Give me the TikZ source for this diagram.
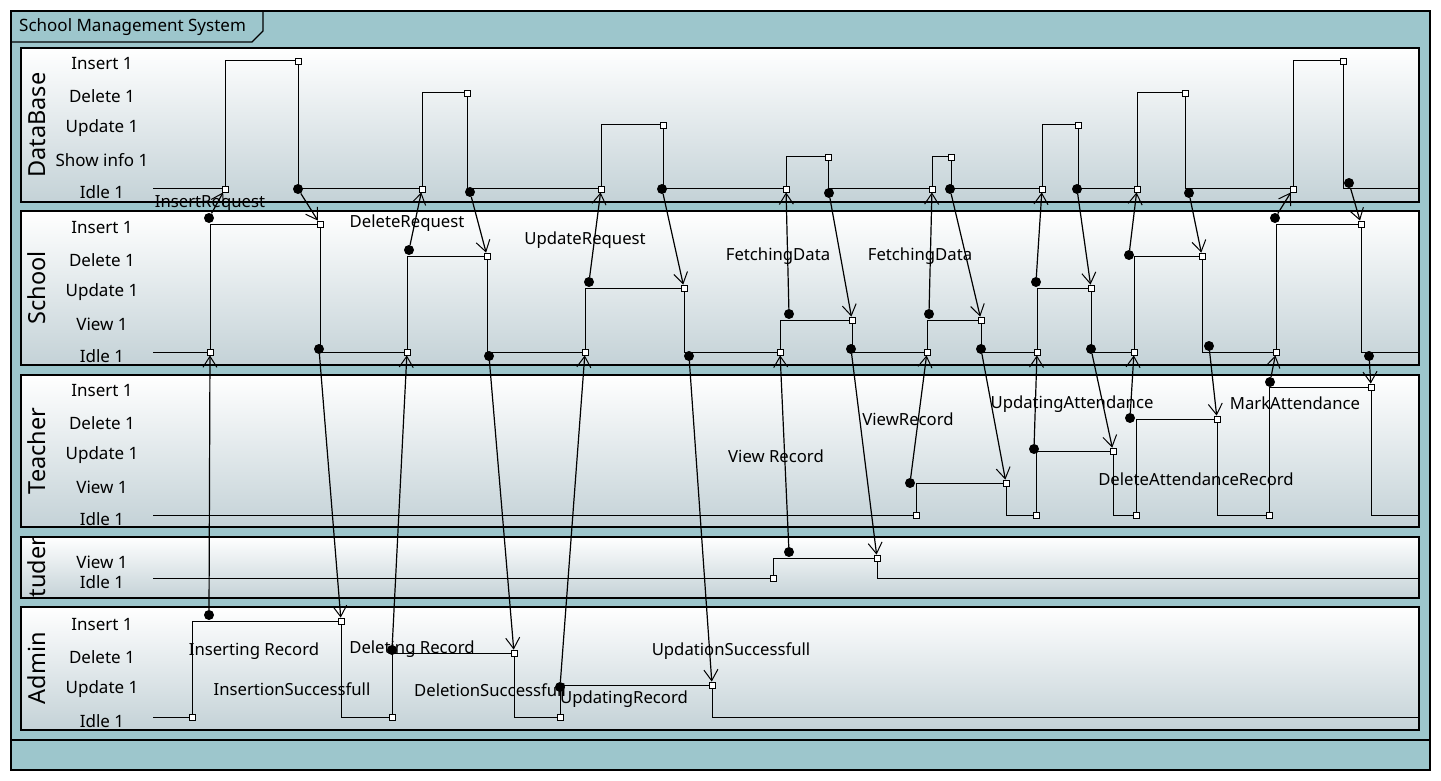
\documentclass[tikz,border=0pt]{standalone}
\usepackage{fontspec}
\setmainfont{Noto Sans}
\usepackage{tikz}
\usetikzlibrary{arrows.meta}
\usetikzlibrary{positioning}

\definecolor{frameteal}{RGB}{157,198,204}
\definecolor{lanebot}{RGB}{196,210,215}

\tikzset{
  lane/.style={draw=black,line width=1.3pt,top color=white,bottom color=lanebot},
  wave/.style={line width=1pt},
  sqmark/.style={rectangle,draw=black,fill=white,line width=0.8pt,minimum size=6pt,inner sep=0pt},
  dotmark/.style={circle,fill=black,minimum size=10pt,inner sep=0pt},
  msg/.style={line width=1.2pt,-{Straight Barb[length=11pt,width=14pt,line width=1pt]}},
  statelbl/.style={font=\fontsize{17}{19}\selectfont},
  msglbl/.style={font=\fontsize{16.7}{19}\selectfont,inner sep=0pt},
  lanename/.style={rotate=90,font=\fontsize{23.5}{26}\selectfont},
}

\begin{document}
\begin{tikzpicture}[x=1pt,y=-1pt]
\useasboundingbox (0,0) rectangle (1441,781);

% frame and title tab
\draw[fill=frameteal,line width=1.2pt] (11,11) rectangle (1430,770);
\draw[line width=1.2pt] (11,42) -- (252,42) -- (263,31) -- (263,11);
\draw[line width=1.2pt] (11,740) -- (1430,740);
\node[anchor=west,font=\fontsize{17}{19}\selectfont,inner sep=0pt] (title) at (19,27) {School Management System};

% lanes
\draw[lane] (21,48) rectangle (1419,202);
\draw[lane] (21,211) rectangle (1419,365);
\draw[lane,line width=2.4pt] (21,375) rectangle (1419,527);
\draw[lane] (21,537) rectangle (1419,598);
\draw[lane] (21,607) rectangle (1419,730);

\node[lanename] (nDB) at (37,125) {DataBase};
\node[lanename] (nSC) at (37,288) {School};
\node[lanename] (nTE) at (37,451) {Teacher};
\begin{scope}
  \clip (21,537) rectangle (1419,598);
  \node[lanename] (nST) at (37,567) {Student};
\end{scope}
\node[lanename] (nAD) at (37,668) {Admin};

% state names
\foreach \n/\t/\y in {dbIns/Insert 1/64, dbDel/Delete 1/96, dbUpd/Update 1/128, dbShw/Show info 1/160, dbIdl/Idle 1/192,
  scIns/Insert 1/228, scDel/Delete 1/260, scUpd/Update 1/292, scVie/View 1/324, scIdl/Idle 1/356,
  teIns/Insert 1/391, teDel/Delete 1/423, teUpd/Update 1/455, teVie/View 1/487, teIdl/Idle 1/519,
  stVie/View 1/562, stIdl/Idle 1/582,
  adIns/Insert 1/625, adDel/Delete 1/657, adUpd/Update 1/689, adIdl/Idle 1/721}
  \node[statelbl] (\n) at (102,\y) {\t};

% message labels
\node[msglbl] (lInsReq) at (210,204) {InsertRequest};
\node[msglbl] (lDelReq) at (407,223) {DeleteRequest};
\node[msglbl] (lUpdReq) at (585,240) {UpdateRequest};
\node[msglbl] (lFetA) at (778,256) {FetchingData};
\node[msglbl] (lFetB) at (920,256) {FetchingData};
\node[msglbl] (lViewA) at (776,456) {View Record};
\node[msglbl] (lViewB) at (908,419) {ViewRecord};
\node[msglbl] (lUpdAtt) at (1072,404) {UpdatingAttendance};
\node[msglbl] (lDelAtt) at (1196,479) {DeleteAttendanceRecord};
\node[msglbl] (lMrkAtt) at (1295,403) {MarkAttendance};
\node[msglbl] (lInsRec) at (254,651) {Inserting Record};
\node[msglbl] (lInsOk) at (292,689) {InsertionSuccessfull};
\node[msglbl] (lDelRec) at (412,649) {Deleting Record};
\node[msglbl] (lDelOk) at (490,690) {DeletionSuccessfull};
\node[msglbl] (lUpdRec) at (624,699) {UpdatingRecord};
\node[msglbl] (lUpdOk) at (731,651) {UpdationSuccessfull};

% state lines
\draw[wave] (153,189) -- (225,189) |- (298,61) -- (298,189) -- (422,189) |- (467,93) -- (467,189)
  -- (601,189) |- (663,125) -- (663,189) -- (786,189) |- (828,157) -- (828,189)
  -- (932,189) |- (951,157) -- (951,189) -- (1042,189) |- (1078,125) -- (1078,189)
  -- (1137,189) |- (1185,93) -- (1185,189) -- (1293,189) |- (1343,61) -- (1343,189) -- (1419,189);
\draw[wave] (153,352) -- (210,352) |- (320,224) -- (320,352) -- (407,352) |- (487,256) -- (487,352)
  -- (585,352) |- (684,288) -- (684,352) -- (780,352) |- (852,320) -- (852,352)
  -- (927,352) |- (981,320) -- (981,352) -- (1037,352) |- (1091,288) -- (1091,352)
  -- (1134,352) |- (1202,256) -- (1202,352) -- (1276,352) |- (1361,224) -- (1361,352) -- (1419,352);
\draw[wave] (153,515) -- (916,515) |- (1006,483) -- (1006,515) -- (1036,515) |- (1113,451) -- (1113,515)
  -- (1136,515) |- (1217,419) -- (1217,515) -- (1269,515) |- (1371,387) -- (1371,515) -- (1419,515);
\draw[wave] (153,578) -- (773,578) |- (877,558) -- (877,578) -- (1419,578);
\draw[wave] (153,717) -- (192,717) |- (341,621) -- (341,717) -- (392,717) |- (514,653) -- (514,717)
  -- (560,717) |- (712,685) -- (712,717) -- (1419,717);

% markers
\foreach \n/\x/\y in {dbr1/225/189, dbr2/422/189, dbr3/601/189, dbr4/786/189, dbr5/932/189, dbr6/1042/189, dbr7/1137/189, dbr8/1293/189,
  dbt1/298/61, dbt2/467/93, dbt3/663/125, dbt4/828/157, dbt5/951/157, dbt6/1078/125, dbt7/1185/93, dbt8/1343/61,
  scr1/210/352, scr2/407/352, scr3/585/352, scr4/780/352, scr5/927/352, scr6/1037/352, scr7/1134/352, scr8/1276/352,
  sct1/320/224, sct2/487/256, sct3/684/288, sct4/852/320, sct5/981/320, sct6/1091/288, sct7/1202/256, sct8/1361/224,
  ter1/916/515, ter2/1036/515, ter3/1136/515, ter4/1269/515,
  tet1/1006/483, tet2/1113/451, tet3/1217/419, tet4/1371/387,
  str1/773/578, stt1/877/558,
  adr1/192/717, adr2/392/717, adr3/560/717,
  adt1/341/621, adt2/514/653, adt3/712/685}
  \node[sqmark] (\n) at (\x,\y) {};
\foreach \n/\x/\y in {dbd1/298/189, dbd2/470/192, dbd3/662/189, dbd4/829/193, dbd5/950/189, dbd6/1077/189, dbd7/1189/193, dbd8/1349/183,
  scu1/209/218, scu2/409/250, scu3/589/282, scu4/789/314, scu5/929/314, scu6/1036/282, scu7/1129/255, scu8/1275/218,
  scd1/319/349, scd2/489/356, scd3/689/356, scd4/851/349, scd5/981/349, scd6/1091/349, scd7/1209/346, scd8/1369/356,
  teu1/910/483, teu2/1034/449, teu3/1130/418, teu4/1270/382,
  stu1/789/552,
  adu1/209/615, adu2/392/650, adu3/560/687}
  \node[dotmark] (\n) at (\x,\y) {};

% messages
\foreach \i in {1,...,8} {
  \draw[msg] (scu\i) -- (dbr\i);
  \draw[msg] (dbd\i) -- (sct\i);
}
\draw[msg] (adu1) -- (scr1);
\draw[msg] (scd1) -- (adt1);
\draw[msg] (adu2) -- (scr2);
\draw[msg] (scd2) -- (adt2);
\draw[msg] (adu3) -- (scr3);
\draw[msg] (scd3) -- (adt3);
\draw[msg] (stu1) -- (scr4);
\draw[msg] (scd4) -- (stt1);
\draw[msg] (teu1) -- (scr5);
\draw[msg] (scd5) -- (tet1);
\draw[msg] (teu2) -- (scr6);
\draw[msg] (scd6) -- (tet2);
\draw[msg] (teu3) -- (scr7);
\draw[msg] (scd7) -- (tet3);
\draw[msg] (teu4) -- (scr8);
\draw[msg] (scd8) -- (tet4);
\end{tikzpicture}
\end{document}
